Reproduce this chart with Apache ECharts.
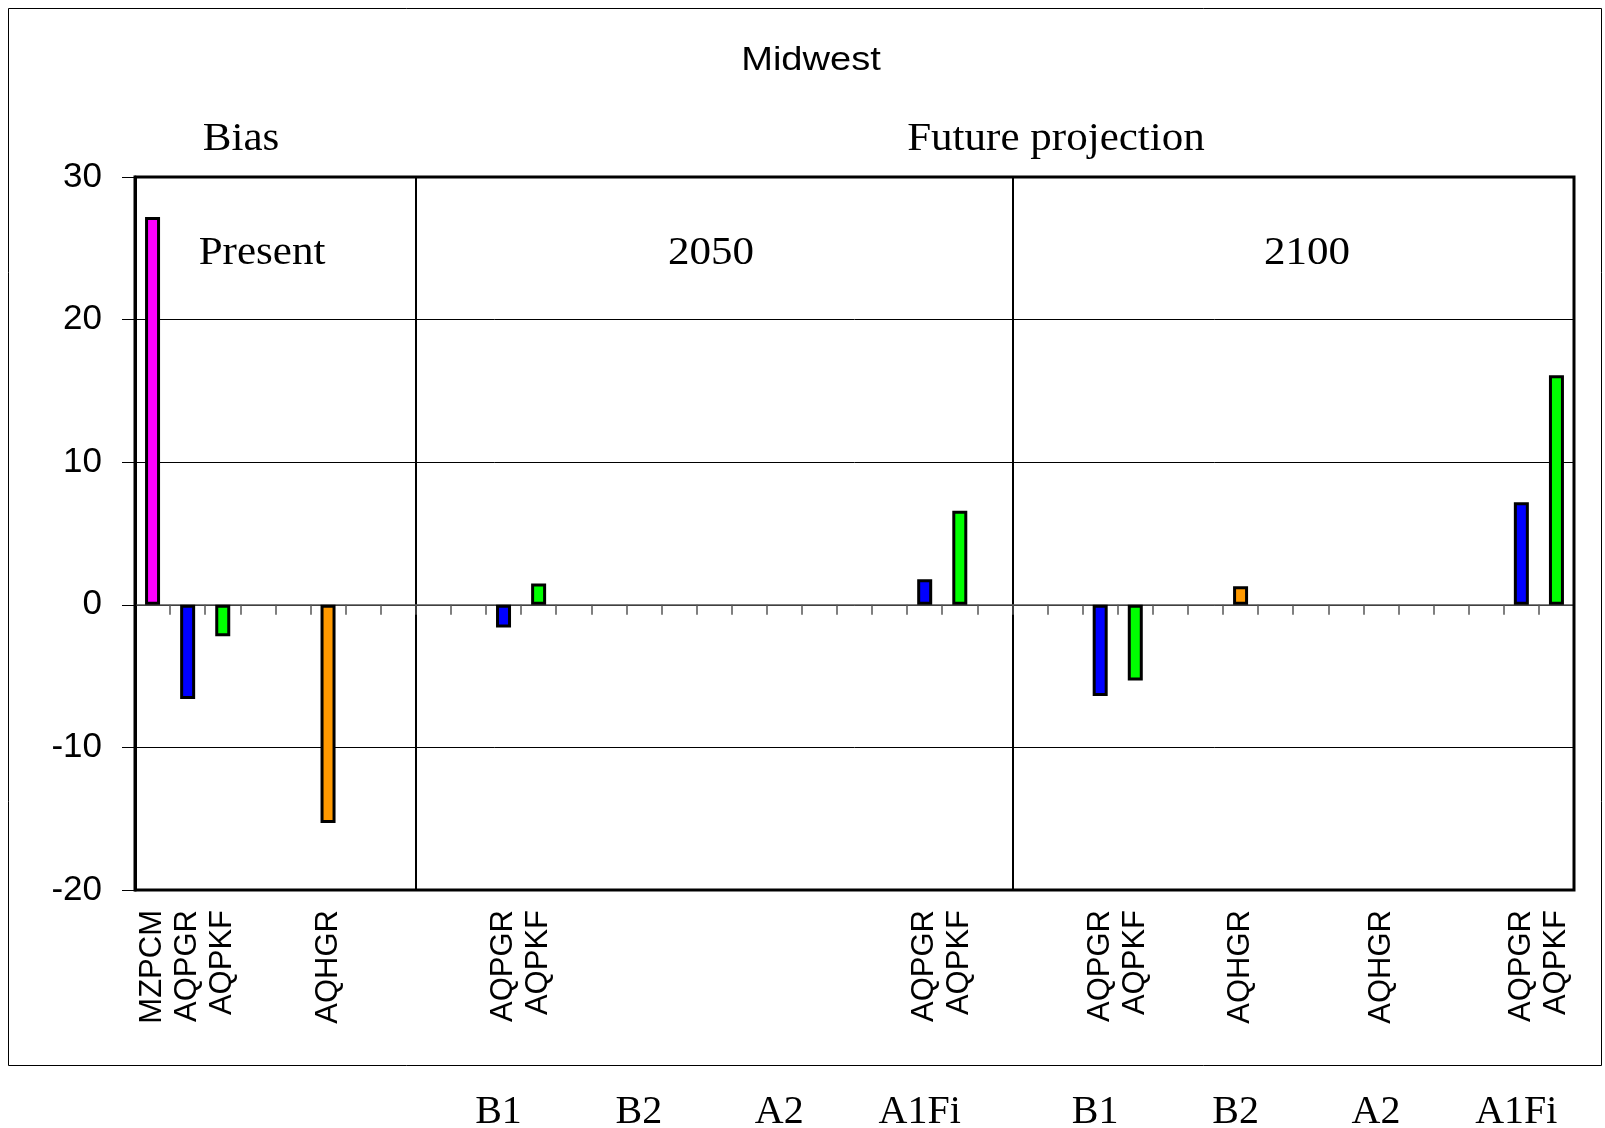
<!DOCTYPE html>
<html><head><meta charset="utf-8">
<script src="https://cdn.jsdelivr.net/npm/echarts@6/dist/echarts.min.js"></script>
<style>html,body{margin:0;padding:0;background:#fff}#c{width:1605px;height:1128px}</style>
</head><body><div id="c"></div>
<script>
// ---- data ----
const presentLabels = ['MZPCM','AQPGR','AQPKF','','','AQHGR','',''];
const presentValues = [27.2,-6.6,-2.2,null,null,-15.3,null,null];
const labels2050 = ['','','AQPGR','AQPKF','','','','','','','','','','','AQPGR','AQPKF',''];
const values2050 = [null,null,-1.6,1.5,null,null,null,null,null,null,null,null,null,null,1.8,6.6,null];
const labels2100 = ['','','AQPGR','AQPKF','','','AQHGR','','','','AQHGR','','','','AQPGR','AQPKF'];
const values2100 = [null,null,-6.4,-5.3,null,null,1.3,null,null,null,null,null,null,null,7.2,16.1];
const scenarios2050 = ['','','B1','','','','B2','','','','A2','','','','A1Fi','',''];
const scenarios2100 = ['','','B1','','','','B2','','','','A2','','','','A1Fi',''];
const presentScen = ['','','','','','','',''];
const yMin = -20, yMax = 30, yStep = 10;
const modelColors = {MZPCM:'#FF00FF', AQPGR:'#0000FF', AQPKF:'#00FF00', AQHGR:'#FF9900'};

// ---- build ----
const categories = presentLabels.concat(labels2050, labels2100);
const values = presentValues.concat(values2050, values2100);
const scenarioRow = presentScen.concat(scenarios2050, scenarios2100);
const dividers = [presentLabels.length, presentLabels.length + labels2050.length];
const idx = categories.map((_, i) => i);

const chart = echarts.init(document.getElementById('c'));
const serif = '"Liberation Serif", "Times New Roman", serif';
const sans = '"Liberation Sans", Arial, sans-serif';
function txt(text, x, y, font, sx) {
  return {type: 'text', x: x, y: y, scaleX: sx,
    style: {text: text, font: font, fill: '#000', align: 'center', verticalAlign: 'middle'}};
}
chart.setOption({
  animation: false,
  backgroundColor: '#fff',
  grid: {left: 135, right: 31, top: 177, bottom: 238, containLabel: false, outerBoundsMode: 'none',
         show: true, borderColor: '#000', borderWidth: 3, backgroundColor: 'transparent', z: 5},
  xAxis: [
    { type: 'category', data: categories, position: 'bottom',
      axisLine: {show: false, onZero: false}, axisTick: {show: false},
      axisLabel: {interval: 0, rotate: 90, fontFamily: sans, fontSize: 31, color: '#000', margin: 20},
      splitLine: {show: true, interval: (i) => dividers.indexOf(i) >= 0, lineStyle: {color: '#000', width: 2}}
    },
    { type: 'category', data: idx, position: 'bottom',
      axisLine: {show: true, onZero: true, onZeroAxisIndex: 0, lineStyle: {color: '#555', width: 1.5}},
      axisTick: {show: true, interval: 0, length: 10, lineStyle: {color: '#555', width: 1.5}},
      axisLabel: {show: false}, splitLine: {show: false}
    },
    { type: 'category', data: scenarioRow, position: 'bottom', offset: 198,
      axisLine: {show: false, onZero: false}, axisTick: {show: false},
      axisLabel: {interval: 0, fontFamily: serif, fontSize: 40, color: '#000', margin: 4, padding: [0, 10, 0, 0]},
      splitLine: {show: false}
    }
  ],
  yAxis: {
    type: 'value', min: yMin, max: yMax, interval: yStep,
    axisLine: {show: true, lineStyle: {color: '#000', width: 3}},
    axisTick: {show: true, length: 13, lineStyle: {color: '#000', width: 1}},
    axisLabel: {fontFamily: sans, fontSize: 35, color: '#000', margin: 33},
    splitLine: {show: true, lineStyle: {color: '#000', width: 1}}
  },
  series: [{
    type: 'bar', xAxisIndex: 0, data: values, barWidth: 15, z: 3,
    itemStyle: {
      borderColor: '#000', borderWidth: 3,
      color: (p) => modelColors[categories[p.dataIndex]] || '#888'
    }
  }],
  graphic: [
    {type: 'rect', shape: {x: 8.5, y: 8.5, width: 1593, height: 1057}, style: {fill: 'none', stroke: '#000', lineWidth: 1}, z: 0, silent: true},
    txt('Midwest', 811, 61, '34px ' + sans, 1.12),
    txt('Bias', 241, 139, '41px ' + serif, 1.05),
    txt('Future projection', 1056, 139, '41px ' + serif, 1.05),
    txt('Present', 262, 253, '41px ' + serif, 1.05),
    txt('2050', 711, 253, '41px ' + serif, 1.05),
    txt('2100', 1307, 253, '41px ' + serif, 1.05)
  ]
});
</script></body></html>
